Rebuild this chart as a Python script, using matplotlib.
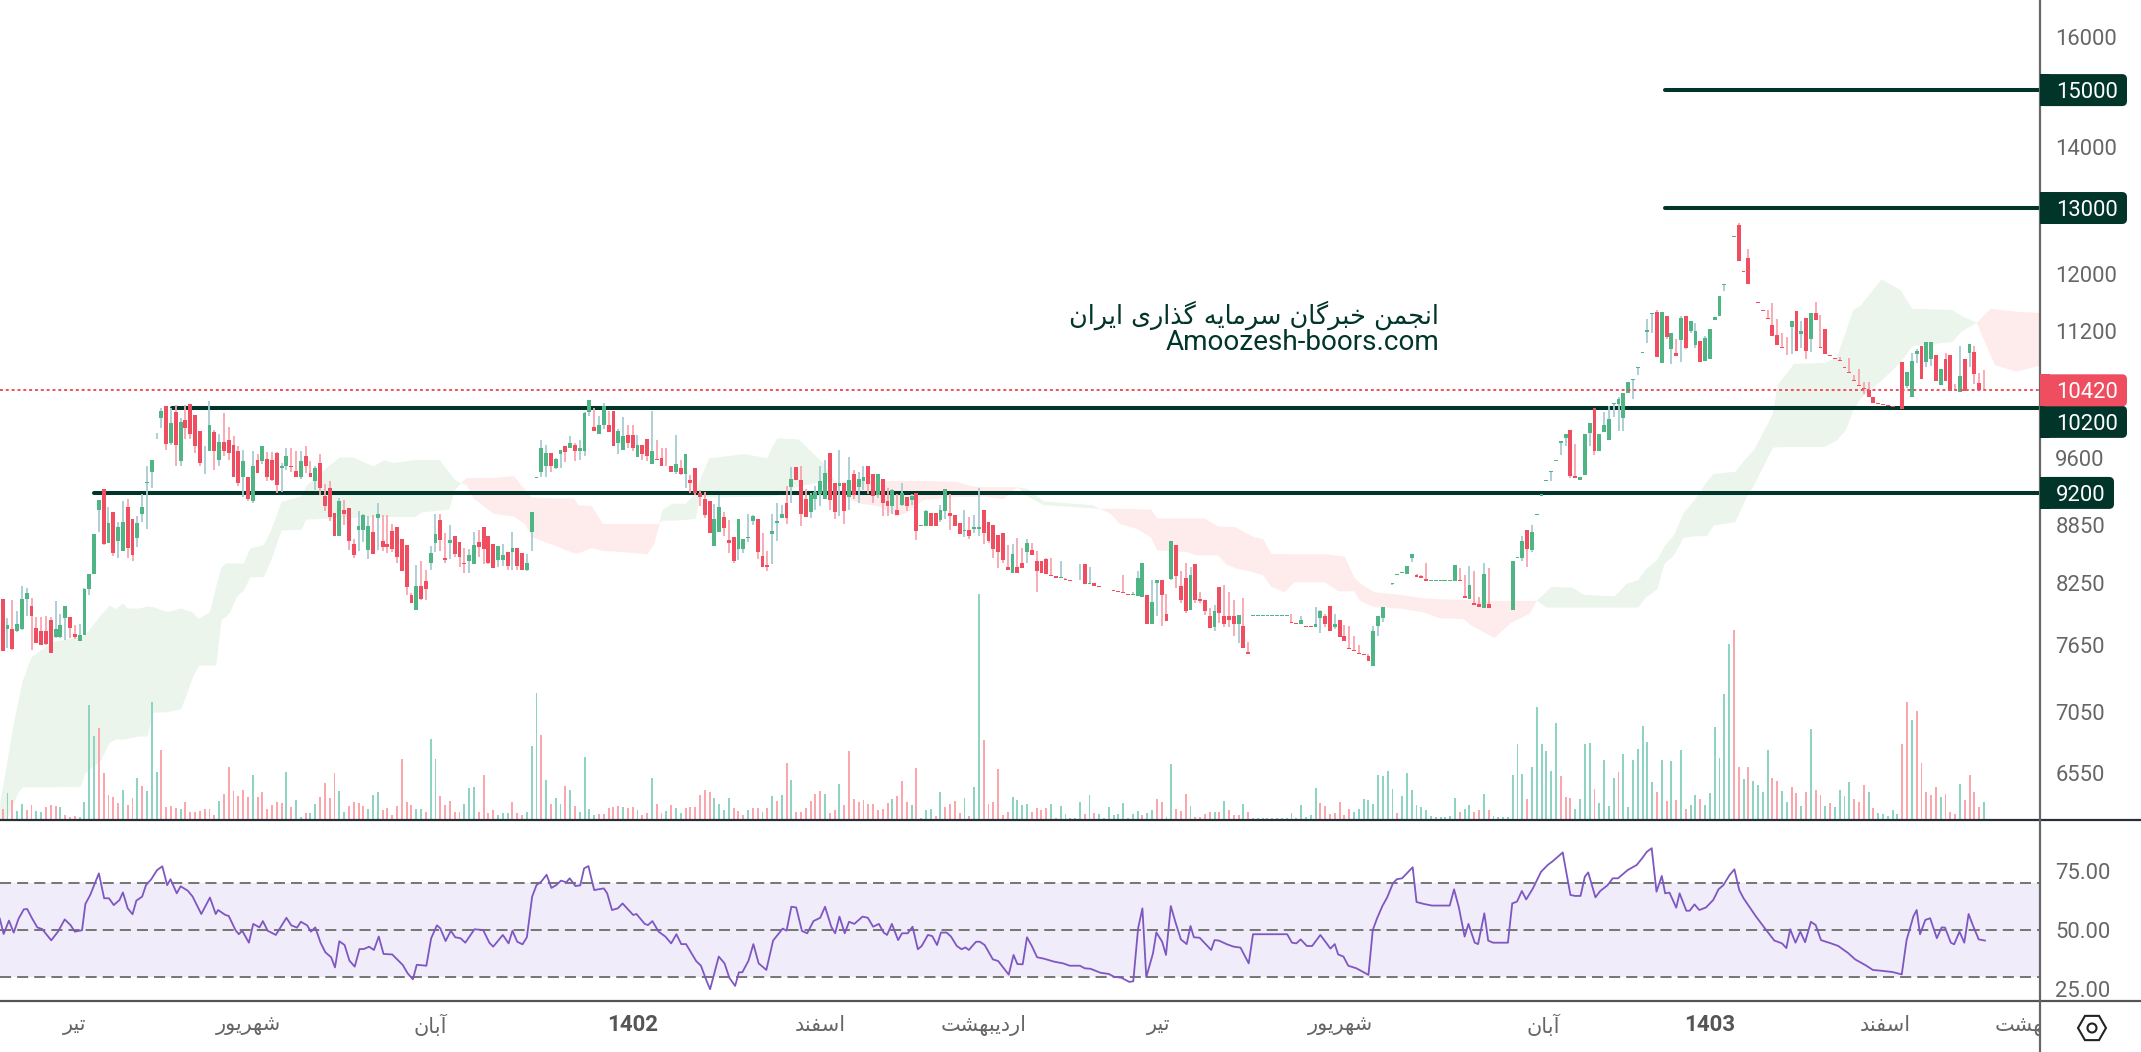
import math

import matplotlib

matplotlib.use("Agg")
import matplotlib.pyplot as plt
from matplotlib.lines import Line2D
from matplotlib.patches import Circle, FancyBboxPatch, Rectangle, RegularPolygon
from matplotlib.ticker import NullLocator
from matplotlib.transforms import Affine2D, Bbox, IdentityTransform, TransformedBbox, blended_transform_factory
import numpy as np

W, H = 2141, 1052

opens = [
    8090,7800,7795,7780,7795,8090,8020,7810,7785,7785,
    7890,7720,7720,7900,7910,7755,7690,7745,8190,8340,
    9010,9240,8660,8990,8680,8575,9045,8910,8710,8970,
    9310,9435,9890,10070,10225,9775,10150,9560,10055,10250,
    10115,9920,9710,9685,9900,9570,9790,9815,9755,9685,
    9375,9385,9115,9570,9560,9590,9570,9660,9480,9500,
    9510,9450,9385,9625,9420,9330,9545,9170,9255,8980,
    8730,9010,9030,8650,8795,8795,8585,8775,8925,8680,
    8650,8785,8825,8700,8635,8130,7985,8220,8265,8450,
    8660,8900,8505,8660,8730,8665,8450,8470,8440,8665,
    8825,8730,8650,8480,8480,8565,8565,8605,8555,8380,
    8775,9365,9435,9500,9660,9480,9645,9740,9710,9755,
    9685,9685,10150,9970,9885,9990,9990,10165,9780,9695,
    9875,9875,9615,9755,9825,9530,9590,9600,9510,9510,
    9435,9480,9410,9340,9480,9200,
    9135,9110,8625,8775,8930,8690,8720,8595,8595,8715,
    8895,8915,8520,8430,8755,8870,8925,9090,9265,9490,
    9350,9135,8985,9135,9190,9135,9660,9315,9275,9315,
    9155,9410,9265,9330,9510,9410,9180,9360,9105,9060,
    9010,9070,9155,9125,9200,8840,8835,8980,8980,8900,
    9000,8980,8955,8870,8785,8795,8805,8805,9010,8880,
    8850,8745,8765,8405,8350,8405,8455,8565,8585,8470,
    8470,8490,8325,8320,8300,8290,8280,8275,8275,8440,
    8240,8250,8220,8200,8195,8180,8170,8160,8140,8130,
    8120,8110,8130,7850,8250,8280,7945,8290,8635,8220,
    8300,7985,8440,8090,8080,7925,7815,8210,7925,7925,
    7925,7850,7830,7585,7925,7925,7925,7925,7925,7925,7925,7925,7865,7860,7850,7830,7830,
    7815,7900,7925,8020,7815,7890,7735,7625,7600,7580,
    7565,7550,7460,7825,7905,8115,8240,8330,
    8350,8340,8505,8330,8320,8285,8270,8270,8270,8270,
    8270,8270,8275,8120,8090,8050,8040,8000,8040,7980,
    7980,7980,7980,7980,8500,8505,8795,8585,8960,9170,
    9330,9435,9565,9770,9840,9935,9390,9345,9405,9895,
    10200,9675,9900,9805,10245,10250,10070,10390,10550,10705,
    10905,11190,11435,11460,10775,11400,10950,10900,11075,11400,
    11200,11010,11060,10800,10830,11345,11410,11840,12200,12555,
    12730,12040,12240,11745,11595,11490,11370,11275,11145,10980,
    10880,11250,11470,11155,11370,11090,11440,10980,11225,10875,
    10835,10815,10715,10650,10550,10485,10455,10430,10335,10260,
    10245,10230,10220,10210,10780,10470,10335,10890,10990,10790,
    10820,10870,10485,10830,10880,10430,10395,10830,10905,10920,
    10515,10425,
]
highs = [
    8090,7900,8075,7975,8220,8200,8100,7915,7910,7920,
    7910,8070,7945,8020,7910,7840,7850,8200,8340,8755,
    9125,9240,9045,8990,8880,9115,9135,8910,8945,9190,
    9500,9570,9895,10195,10225,10195,10240,10080,10240,10250,
    10115,9920,9740,10285,9935,9885,10140,9970,9860,9740,
    9695,9385,9685,9640,9740,9670,9670,9670,9535,9720,
    9720,9685,9685,9740,9560,9510,9640,9295,9330,8980,
    9145,9125,9030,8700,9000,8970,8945,8955,9090,8955,
    8955,8860,8825,8700,8635,8150,8430,8470,8380,8625,
    8970,8970,8765,8850,8730,8665,8605,8595,8775,8795,
    8825,8730,8650,8625,8650,8565,8775,8605,8555,8545,
    8990,9375,9815,9755,9660,9600,9695,9740,9860,9775,
    9815,10150,10300,10200,10100,10260,10165,10165,9945,10090,
    9995,9995,9875,9755,9825,10165,9815,9720,9720,9510,
    9875,9570,9640,9400,9480,9230,
    9210,9110,9080,9180,8990,8900,8720,8915,8700,8970,
    8955,8915,8765,8575,8970,9090,9070,9275,9490,9490,
    9510,9240,9200,9275,9510,9570,9660,9315,9695,9315,
    9615,9465,9435,9500,9510,9410,9410,9360,9255,9240,
    9190,9315,9155,9190,9200,8850,9010,8980,8980,9070,
    9240,9190,8955,8870,9010,8935,8955,9250,9010,8880,
    8850,8745,8765,8635,8650,8710,8605,8700,8660,8575,
    8470,8500,8500,8320,8470,8300,8280,8280,8440,8440,
    8405,8250,8220,8200,8200,8180,8170,8325,8140,8160,
    8370,8450,8130,8280,8280,8280,8140,8680,8635,8370,
    8450,8405,8440,8160,8080,8005,8030,8210,8230,8160,
    8080,7935,8100,7680,7930,7930,7930,7930,7930,7930,7930,7930,7945,7860,7925,7830,7830,
    8010,7985,7945,8020,7945,7890,7840,7830,7735,7650,
    7565,7565,7830,7925,8010,8120,8250,8340,
    8360,8415,8545,8335,8330,8455,8280,8280,8280,8280,
    8280,8430,8400,8330,8420,8370,8105,8455,8400,7985,
    7985,7985,7985,8475,8510,8730,8795,8850,8965,9190,
    9345,9445,9570,9795,9885,9935,9760,9385,9885,10020,
    10200,9880,10155,10225,10260,10340,10385,10530,10560,10715,
    10920,11360,11440,11480,11460,11400,11170,11085,11400,11400,
    11340,11310,11060,11135,11225,11385,11680,11850,12205,12565,
    12760,12040,12370,11745,11595,11490,11490,11590,11360,11170,
    11115,11340,11470,11335,11370,11440,11600,11420,11225,10875,
    10835,10845,10715,10840,10620,10690,10530,10530,10335,10260,
    10245,10230,10220,10210,10780,10660,10900,10955,10990,11050,
    11050,10870,10690,10905,10880,10495,10990,10830,11025,10995,
    10645,10685,
]
lows = [
    7590,7620,7605,7770,7790,7925,7600,7665,7645,7650,
    7575,7715,7715,7695,7715,7705,7690,7745,8130,8340,
    8775,8635,8655,8520,8500,8575,8500,8470,8615,8880,
    8805,9255,9825,9960,9695,9755,9510,9500,9825,9825,
    9660,9510,9410,9685,9465,9500,9625,9570,9375,9275,
    9155,9105,9090,9420,9525,9330,9330,9200,9210,9465,
    9435,9380,9360,9420,9375,9230,9180,9000,8890,8730,
    8730,8850,8585,8500,8575,8665,8490,8545,8585,8575,
    8555,8565,8455,8370,8130,8045,7985,8080,8080,8380,
    8565,8575,8450,8490,8510,8405,8350,8350,8440,8510,
    8440,8440,8400,8410,8415,8380,8380,8380,8380,8370,
    8575,9365,9375,9375,9435,9475,9480,9550,9710,9560,
    9570,9625,10100,9920,9885,9945,9900,9740,9650,9695,
    9720,9680,9615,9570,9560,9525,9570,9510,9500,9435,
    9410,9400,9250,9200,9180,9060,
    8925,8765,8625,8775,8730,8555,8450,8480,8555,8665,
    8850,8490,8405,8370,8440,8680,8925,8860,9090,9340,
    8835,8935,8925,9010,9060,9135,9010,8910,8945,8860,
    9010,9135,9090,9230,9190,9090,9145,8945,8945,8970,
    8955,9060,9000,9070,8690,8840,8835,8835,8835,8880,
    8910,8795,8835,8755,8720,8700,8765,8730,8650,8660,
    8500,8400,8455,8380,8350,8350,8400,8450,8530,8160,
    8350,8340,8320,8300,8300,8280,8270,8275,8275,8240,
    8240,8220,8210,8195,8195,8170,8160,8150,8130,8130,
    8120,8110,7850,7850,7920,7830,7880,8280,8200,8050,
    7955,7985,8050,8050,7930,7805,7780,7860,7820,7815,
    7735,7665,7625,7570,7925,7925,7925,7925,7925,7925,7925,7925,7860,7850,7850,7820,7820,
    7815,7765,7820,7785,7795,7725,7690,7615,7590,7570,
    7555,7500,7460,7735,7870,8115,8230,8330,
    8350,8340,8465,8310,8300,8270,8270,8270,8270,8270,
    8270,8270,8265,8100,8085,8030,8010,8000,8000,7980,
    7980,7980,7980,7980,8500,8475,8410,8560,8960,9170,
    9330,9330,9565,9630,9740,9370,9370,9345,9405,9740,
    9630,9675,9900,9805,10090,9915,9915,10390,10315,10620,
    10905,11035,11170,10850,10775,11095,10760,10860,10790,10950,
    11170,10965,10790,10800,10830,11345,11410,11760,12200,12555,
    12190,12035,11850,11740,11590,11475,11360,11135,11010,10970,
    10870,10895,10935,10975,10830,10910,11355,10965,10895,10865,
    10825,10800,10705,10640,10535,10475,10370,10340,10265,10250,
    10240,10225,10210,10205,10185,10445,10335,10775,10570,10715,
    10730,10535,10485,10535,10405,10420,10395,10415,10715,10495,
    10425,10420,
]
closes = [
    7590,7835,7615,7850,8090,8150,7925,7665,7645,7660,
    7575,7795,7840,8020,7810,7725,7745,8190,8340,8755,
    9125,8650,8870,8555,8825,8880,8605,8530,8870,9045,
    9320,9570,9895,10165,9765,10020,9755,10030,9960,9885,
    9740,9535,9720,9990,9685,9790,9685,9660,9375,9310,
    9560,9135,9500,9420,9740,9375,9340,9285,9510,9625,
    9490,9385,9560,9500,9375,9480,9255,9060,8935,8730,
    9115,8970,8680,8530,8835,8955,8835,8545,8970,8615,
    8615,8595,8510,8370,8210,8045,8220,8090,8190,8555,
    8755,8690,8480,8690,8545,8510,8440,8530,8635,8615,
    8595,8455,8400,8625,8530,8415,8605,8415,8380,8455,
    8990,9375,9720,9660,9500,9590,9695,9670,9770,9685,
    9720,10140,10300,9920,9990,10225,9910,9740,9920,9860,
    9775,9720,9755,9650,9625,9685,9570,9510,9500,9435,
    9525,9410,9640,9315,9200,9155,
    8955,8765,8915,9045,8815,8660,8470,8915,8700,8720,
    8945,8565,8405,8405,8785,8895,8970,8925,9360,9340,
    8970,8935,9180,9210,9330,9420,9125,8990,9310,9000,
    9340,9180,9360,9375,9295,9170,9410,9090,9060,9230,
    8955,9200,9060,9170,8785,8850,9000,8835,8835,9010,
    9240,8945,8835,8755,8795,8730,8825,8825,8765,8680,
    8595,8565,8480,8380,8545,8350,8400,8660,8530,8370,
    8350,8340,8320,8300,8310,8280,8270,8280,8280,8240,
    8250,8220,8210,8195,8200,8170,8160,8150,8130,8140,
    8300,8450,7850,8060,8280,8130,7880,8680,8320,8080,
    7970,8330,8080,8070,7970,7805,7970,7955,7850,7890,
    7850,7935,7625,7570,7930,7930,7930,7930,7930,7930,7930,7930,7860,7850,7890,7820,7820,
    7850,7970,7850,7785,7850,7725,7690,7615,7590,7570,
    7555,7500,7785,7925,8010,8120,8250,8340,
    8360,8415,8545,8310,8300,8270,8280,8280,8280,8280,
    8280,8430,8265,8100,8230,8030,8010,8340,8000,7985,
    7985,7985,7985,8475,8510,8680,8590,8770,8965,9190,
    9345,9445,9570,9795,9885,9390,9370,9385,9885,10020,
    9675,9880,9990,10060,10260,10310,10385,10530,10560,10715,
    10920,11205,11440,10850,11460,11110,11170,10860,11370,10965,
    11340,11195,10790,11100,11225,11385,11680,11850,12205,12565,
    12190,12035,11850,11740,11590,11475,11360,11135,11010,10970,
    10870,11340,10935,11195,10925,11440,11355,10965,10895,10865,
    10825,10800,10705,10640,10535,10475,10435,10340,10265,10250,
    10240,10225,10210,10205,10185,10660,10800,10925,10570,11050,
    11050,10535,10690,10535,10405,10420,10605,10415,11025,10630,
    10425,10420,
]

# negative volume = red bar
volumes = [
    -11,27,-20,9,16,-10,-15,9,8,-13,
    -15,-14,13,-5,-3,-4,3,18,115,84,
    -92,-47,-25,-23,-17,30,-15,-22,42,-34,
    29,118,48,-70,-13,-14,-12,11,-18,-8,
    -8,-9,-11,-11,-5,19,-26,-53,-29,-24,
    -30,-23,45,-23,-28,-11,-15,-18,-17,48,
    -13,20,3,-7,7,16,-23,-37,-22,-47,
    29,8,-14,-18,-17,-14,11,25,28,-10,
    -12,-5,-14,-61,-18,-15,11,11,-8,81,
    61,-24,-15,-19,-8,-8,16,32,33,-8,
    -45,-7,-10,5,7,7,-18,-7,-5,8,
    74,127,-85,40,-16,22,16,-34,30,-14,
    8,63,11,5,-6,-6,-12,-13,-14,13,
    -12,-13,10,-5,-7,42,-16,-7,9,-15,
    12,7,-12,-13,-13,
    -25,-30,-28,22,16,10,22,-12,-9,-5,
    10,-12,-12,8,-12,24,-19,25,-57,40,
    -8,-8,-12,-19,-26,-29,26,-7,-10,36,
    -15,-69,-21,-18,-20,-16,-16,-10,-11,-17,
    21,-24,-39,-18,15,-52,2,10,11,-4,
    28,-13,-16,-19,-7,22,-4,33,226,-80,
    -16,-18,-51,-5,-8,23,20,15,16,-8,
    -12,-10,-12,16,-2,14,6,2,2,18,
    -6,25,-7,6,2,13,5,6,17,2,
    6,9,-5,7,10,-21,-18,3,56,-11,
    -9,-26,14,-3,-3,-6,-8,8,-8,19,
    -10,-5,-5,16,-8,2,2,2,2,2,
    2,2,2,7,2,15,3,5,32,-17,
    -14,-6,-7,-18,-5,-11,8,11,21,20,
    16,45,44,49,31,-7,
    24,47,30,15,13,10,4,3,3,3,
    4,22,-8,11,15,-8,-10,26,-10,4,
    3,3,3,45,76,46,-21,53,113,76,
    69,49,97,-44,-23,-22,11,21,76,77,
    -31,17,60,14,42,-48,66,13,60,71,
    94,78,38,-28,60,-19,59,-20,70,-11,
    15,25,-21,15,27,93,62,126,176,-190,
    -53,41,-53,39,35,28,70,-42,-39,29,
    18,-33,-27,14,-28,91,-30,-25,14,-17,
    13,30,24,38,-21,-18,-35,28,-12,7,
    6,4,10,6,-76,-118,100,-109,-57,-28,
    -25,-33,23,-26,-8,-6,36,-20,-45,-28,
    -13,18,
]

rsi_x = [
    -0.6,0.2,1.3,2.3,3.3,4.4,5.1,6.1,7.2,8.2,10.1,11.5,12.9,14.1,15,16.5,17.2,18.2,20,21.1,
    22.1,23.1,24.3,25,26,27,27.8,29,29.8,30.9,32.1,33.2,34.2,34.9,36.2,37,38.5,39.5,41.3,43.1,
    44.3,44.8,46.3,47,48.4,49.1,49.8,51.2,52.1,53.4,54.1,55.1,56.8,59,60,61.2,62,63.3,64.1,65,
    66.1,67.1,68.3,69.1,70,71.1,72.1,73.2,74.2,75.1,76.2,77.2,78.2,79.2,81,83.2,84.2,85.3,86.1,88.1,
    89.1,90.3,91,92.1,93.2,94.1,95.2,96.2,98.1,99.9,101.2,102,104,105.2,106,107,108.1,109,110.1,111,
    112,113.1,114.1,115.1,116.1,117.2,117.9,119.1,120.1,120.9,121.8,123,125,125.7,126.7,127.9,128.9,131.1,131.8,133.5,
    134.2,135.1,136.4,137.8,139,140.1,141.1,142.1,144.2,145.2,146.3,147.1,148.9,150.1,151.1,152.3,153.1,153.8,155.1,156.1,
    157.2,158.8,160.2,162.2,163,164,165,166.2,167.3,168.6,170,171,172.3,173.1,174,175.1,176,177.1,178.8,179.9,
    181,182.2,183.2,183.9,184.9,186.2,187,188.2,189.2,190.3,191.1,192.4,193.3,194.3,195.1,196.3,197.2,198.4,199.4,200.2,
    200.9,202.4,203.2,204.2,205.9,207,209.2,210.2,211,212.1,213,214,215.1,216.5,218.7,220.5,
    221.9,224,225,226.2,228.3,230,231.1,232.6,234.3,235.1,236.1,237,237.8,239.2,239.9,241.1,241.9,242.9,243.9,245,
    246.2,247,247.7,248.9,251.3,252,252.9,254.6,256,257.4,259.1,260,267.1,268.1,269,269.9,271.2,272.3,274,276.1,
    277,277.7,278.8,279.8,281.5,284,284.9,285.8,286.9,287.9,289.1,289.9,291,293.2,294,295.5,297.2,300.9,301.8,302.8,
    304,304.8,306.1,306.8,308.1,308.9,309.9,313,313.9,314.9,315.9,316.8,318.2,319.9,321.3,322.4,323.4,324.4,326,327,
    328.1,329,329.7,331.2,332.2,333.7,334.8,335.9,337.9,339.8,340.9,341.9,342.9,343.9,345,345.7,346.6,348,348.7,350.1,
    350.8,351.8,352.8,354.2,355.7,356.8,357.8,359.1,360.1,361.1,362,364.6,366.7,368.4,370,370.9,371.7,372.8,373.8,374.8,
    376,377,378.1,380.2,381.7,383.8,385.2,387.3,388.9,390.9,393,394.9,395.9,397.3,398,398.7,399.8,400.8,402.2,403.2,
    403.9,405.1,405.8,406.9,407.9,408.8,409.8,410.9,412.2,
]
rsi_vals = [
    54.8,48.3,54,48.9,54.8,58.8,58.9,55,51.1,50.4,45.6,49.3,54.5,52.1,49.3,49.9,61.1,64.9,74.1,63.5,
    63.5,60.6,62.8,66,59.2,56.7,62.5,64.2,69.1,71.6,75.5,77.1,69.1,71.6,65.6,68.6,66.7,64.2,56.8,63.8,
    56.8,58.5,56.4,56,50,48.2,49.7,44.6,52.6,51.1,53.8,49.7,47.9,55.2,52,51,53.5,52,49.3,51.1,
    44.6,40.5,38.4,34.1,45.2,43.6,37,34.4,41.9,41.9,42.9,41.5,47.2,39.8,39.6,35.1,31.6,29,35.2,34.8,
    46.5,52,50.7,45.3,49.7,46.9,46.5,44.6,50.3,50,44.6,42.9,47.9,44.3,49.7,45,43.9,46.9,64.2,69.1,
    70.6,73.5,67.9,69.1,71,70.3,72,68.7,69,76.2,77.2,67,67.7,65.6,58.5,59.2,61.3,56.4,56.8,52.6,
    52.1,53.8,49.3,47.2,44.3,48.2,44,44,36.8,34.8,28.7,24.8,38.7,35.8,29.7,26.2,32,32,37,44,
    35.8,33,45.5,50.6,49.7,59.9,59.6,49.6,48.6,53.8,55.2,59.9,51.4,48.6,55.7,48.6,53.5,52.6,55.7,55.2,
    51.4,52.6,48.9,47.9,52.6,45.7,48.6,48.6,51.4,41.8,43.2,47.9,47.4,43.6,48.9,48.9,47.2,43.2,41.8,42.6,
    41.5,45,45,43.6,37.5,36.8,31,39.4,35.5,35.4,46.9,43.2,38.4,37.8,36.5,35.8,
    34.8,34.8,33.7,33.5,31.8,31.3,30.1,29.7,27.9,28.2,50.7,59.2,29.9,40.1,49,45,39.4,60.2,53.1,46,
    44,51.7,46.9,46.7,41.5,45.7,45.5,43.9,42.9,42.5,35.8,48.2,48.2,44.6,44.3,46,43.2,43.2,47.9,42.1,
    44,39.6,38.7,34.8,33.7,30.9,50,55,60.2,63.9,69.9,71.6,72,76.7,61.9,61.1,60.4,60.4,67.3,59.6,
    47.2,52.6,44.6,44,57.1,45.5,44.6,44.6,61.3,62.1,66.6,63,67.7,74.8,77.7,79.4,81.2,83,64.9,64.5,
    64.5,72.7,74.5,63.9,66.6,69,72,72,75.5,77.7,80.5,83.3,84.8,66.3,73,65.6,65.9,59.5,65.6,58.2,
    58.2,60.9,58.5,59.6,62.8,67.3,69.1,73.4,75.8,67,63.5,55.7,50,45.5,44.3,42.3,50.3,44.6,49.3,44.8,
    53.5,52.1,45.7,44.3,43.2,40.1,37.5,35.1,33,32.6,32.1,31.1,45.7,55.7,58.5,48.2,54.3,55,46.5,51.1,
    51,44.6,43.9,49.3,44.6,56.8,51.4,46,45.5,
]

# ichimoku cloud pieces: bar position, upper edge, lower edge
green_x = [
    [-0.6,0.8,2.2,3.2,4.1,5.9,10.1,16.1,17.1,20.3,22.2,23.4,25,25.9,28.2,30,31.2,34.2,37,38,39.3,40.7,43,44.3,45.4,46.3,47.2,48.6,50,51.4,54.2,55.6,57.9,62.1,63,64.4,67.6,70,72.8,77,79.3,81.1,85.7,87.1,90.8,92.7,94,95.2],
    [136.5,137,139.1,141.9,144,144.9,146.8,154.2,158.9,159.8,161,165.4,170.5,172.8,174.4],
    [210.9,213.1,216.4,226.6,228],
    [318.9,320.9,321.9,326.3,328.7,335.1,337.6,340,341.5,344,345.4,347.4,349.4,351.8,354.3,355.7,360.2,362.6,364.1,368,369,372.4,378.8,381.3,383.2,384.7,386.2,390.6,394.5,397,405.3,407.3,410.4],
]
green_hi = [
    [6320,6628,6956,7155,7330,7540,7680,7730,7745,7935,8030,7995,8050,8000,8000,8020,8015,7965,8000,7985,7965,7900,7965,8215,8405,8450,8450,8450,8450,8605,8640,8780,9105,9170,9280,9350,9505,9610,9610,9505,9580,9545,9580,9580,9580,9440,9350,9315],
    [8865,9010,9085,9085,9200,9350,9600,9650,9600,9715,9835,9825,9545,9350,9330],
    [9270,9250,9110,9070,9030],
    [8075,8165,8215,8205,8135,8120,8245,8280,8385,8490,8625,8740,8980,9130,9335,9420,9445,9610,9700,10130,10495,10765,10780,10855,11200,11495,11550,11930,11775,11510,11495,11410,11315],
]
green_lo = [
    [6190,6190,6315,6400,6440,6440,6440,6445,6550,6650,6800,6825,6825,6830,6850,6850,7050,7055,7080,7185,7345,7465,7465,7465,7890,7920,7965,8115,8175,8310,8310,8465,8795,8805,8915,8915,8925,8925,8930,8940,8940,8940,8940,8990,9010,9020,9240,9315],
    [8865,8900,8900,8910,8920,9155,9155,9160,9165,9165,9175,9280,9330,9330,9330],
    [9270,9165,9070,9035,9030],
    [8075,8010,8010,8010,8010,8010,8010,8010,8105,8190,8440,8535,8715,8735,8735,8850,8885,9165,9290,9725,9730,9735,9735,9810,9935,10175,10320,10550,10780,11000,11055,11200,11315],
]
red_x = [
    [95.2,96.4,97.8,102,106.2,108.5,109.9,114.5,118.7,119.6,122.4,124.7,128.4,134,135.4,136.5],
    [174.4,176.5,178.4,182,185.8,188.1,191.3,198.3,201.5,204.3,208,210.9],
    [228,230.3,232.2,235.9,238.7,240,246.1,248,249.8,252.6,254.4,256.3,260,262,263.7,266.5,268.4,274.9,277.6,279,280.9,282.3,285.1,290.4,295.3,298.8,303.7,305.2,310.1,313.5,317.4,318.9],
    [410.4,413.2,414.2,418.6,424],
]
red_hi = [
    [9315,9375,9375,9375,9395,9240,9155,9145,9145,9070,9060,8865,8865,8865,8865,8865],
    [9330,9335,9335,9340,9340,9340,9340,9330,9280,9270,9270,9270],
    [9030,9030,9030,9025,9020,8925,8925,8925,8925,8840,8835,8830,8725,8705,8550,8545,8545,8545,8530,8520,8310,8245,8160,8135,8100,8090,8085,8080,8075,8075,8075,8075],
    [11315,11510,11505,11470,11450],
]
red_lo = [
    [9315,9290,9145,8975,8945,8865,8725,8640,8555,8555,8610,8580,8570,8545,8655,8865],
    [9330,9125,9085,9060,8945,8995,9125,9160,9160,9165,9135,9270],
    [9030,8975,8865,8810,8720,8585,8570,8535,8535,8535,8440,8400,8360,8330,8215,8160,8260,8260,8170,8170,8170,8070,8015,8000,7965,7905,7900,7840,7720,7860,7950,8075],
    [11315,10890,10750,10665,10750],
]

price_ticks = [16000, 14000, 12000, 11200, 9600, 8850, 8250, 7650, 7050, 6550]
rsi_ticks = [25, 50, 75]
rsi_bands = [30, 50, 70]
# name, bar position where the level line starts
level_prices = [15000, 13000, 10200, 9200]
level_starts = [345.7, 345.7, 35.2, 19]
last_price = 10420

month_x = [15, 51.1, 89, 131, 170, 204, 240.4, 278.2, 320.4, 355, 391.5, 423.1]
month_names = ["تیر", "شهریور", "آبان", "1402", "اسفند", "اردیبهشت", "تیر", "شهریور", "آبان", "1403", "اسفند", "اردیبهشت"]

watermark_fa = "انجمن خبرگان سرمایه گذاری ایران"
watermark_en = "Amoozesh-boors.com"

# matplotlib has no arabic shaping, so map letters to presentation forms
FORMS = {
    "ا": "\ufe8d\ufe8e", "آ": "\ufe81\ufe82", "د": "\ufea9\ufeaa", "ذ": "\ufeab\ufeac",
    "ر": "\ufead\ufeae", "و": "\ufeed\ufeee",
    "ب": "\ufe8f\ufe90\ufe91\ufe92", "ت": "\ufe95\ufe96\ufe97\ufe98", "ج": "\ufe9d\ufe9e\ufe9f\ufea0",
    "خ": "\ufea5\ufea6\ufea7\ufea8", "س": "\ufeb1\ufeb2\ufeb3\ufeb4", "ش": "\ufeb5\ufeb6\ufeb7\ufeb8",
    "ف": "\ufed1\ufed2\ufed3\ufed4", "گ": "\ufb92\ufb93\ufb94\ufb95", "م": "\ufee1\ufee2\ufee3\ufee4",
    "ن": "\ufee5\ufee6\ufee7\ufee8", "ه": "\ufee9\ufeea\ufeeb\ufeec", "ی": "\ufbfc\ufbfd\ufbfe\ufbff",
}


def shape(text):
    out = []
    for i, ch in enumerate(text):
        if ch not in FORMS:
            out.append(ch)
            continue
        prev_ch = text[i - 1] if i else ""
        next_ch = text[i + 1] if i + 1 < len(text) else ""
        join_prev = prev_ch in FORMS and len(FORMS[prev_ch]) == 4
        join_next = next_ch in FORMS and len(FORMS[ch]) == 4
        idx = 3 if join_prev and join_next else 1 if join_prev else 2 if join_next else 0
        out.append(FORMS[ch][idx])
    return "".join(reversed(out))


fig = plt.figure(figsize=(W / 100, H / 100), dpi=100, facecolor="#FFFFFF")
px = Affine2D().scale(1 / W, -1 / H).translate(0, 1) + fig.transFigure


def frame(x0, y0, x1, y1):
    return [x0 / W, 1 - y1 / H, (x1 - x0) / W, (y1 - y0) / H]


ax = fig.add_axes(frame(0, 0, 2040, 820))
ax_vol = fig.add_axes(frame(0, 0, 2040, 820), sharex=ax)
ax_rsi = fig.add_axes(frame(0, 820, 2040, 1001), sharex=ax)
ax_vol.patch.set_visible(False)
ax_vol.set_zorder(2)
ax.set_zorder(1)
for a in (ax, ax_vol, ax_rsi):
    for spine in a.spines.values():
        spine.set_visible(False)

n = len(closes)
step = (1984 - 2.68) / (n - 1)
x = np.arange(n)
o = np.array(opens, dtype=float)
c = np.array(closes, dtype=float)
up = c >= o

ax.set_yscale("log")
ax.set_ylim(6186, 16733)
ax.set_xlim(-2.68 / step, (2040 - 2.68) / step)

for xs, hi, lo in zip(green_x, green_hi, green_lo):
    ax.fill_between(xs, lo, hi, color="#EBF5EC", lw=0, zorder=1)
for xs, hi, lo in zip(red_x, red_hi, red_lo):
    ax.fill_between(xs, lo, hi, color="#FEEBEB", lw=0, zorder=1)

for price, start in zip(level_prices, level_starts):
    ax.hlines(price, start, 500, color="#02352A", lw=2.9, zorder=2, capstyle="round")

ax.vlines(x, lows, highs, colors=np.where(up, "#A7CCD3", "#F9A5AF"), lw=1.3, zorder=3)
ax.bar(x, np.abs(c - o), bottom=np.minimum(o, c), width=0.8, color=np.where(up, "#50B585", "#EF4E60"), lw=0, zorder=4)
ax.axhline(last_price, color="#F0505F", lw=1.4, ls=(0, (1.5, 1.5)), zorder=5)

ax.yaxis.tick_right()
ax.set_yticks(price_ticks)
ax.set_yticklabels([str(t) for t in price_ticks], fontname="Roboto", fontsize=15.8, color="#666666")
ax.yaxis.set_minor_locator(NullLocator())
ax.yaxis.set_minor_formatter(plt.NullFormatter())
ax.tick_params(axis="y", length=0, pad=11)
ax.tick_params(axis="x", bottom=False, labelbottom=False)

vol = np.array(volumes, dtype=float)
ax_vol.bar(np.arange(len(vol)), np.abs(vol), width=0.4, color=np.where(vol > 0, "#8FD3C3", "#FBA5AD"), lw=0)
ax_vol.set_ylim(0, 820)
ax_vol.set_yticks([])
ax_vol.tick_params(axis="x", bottom=False, labelbottom=False)

ax_rsi.set_ylim(50 - 71 / 2.35, 50 + 110 / 2.35)
ax_rsi.axhspan(rsi_bands[0], rsi_bands[2], color="#F0ECF9", lw=0)
for level in rsi_bands:
    ax_rsi.axhline(level, color="#787878", lw=1.45, ls=(0, (5.5, 3)))
ax_rsi.plot(rsi_x, rsi_vals, color="#7E57C2", lw=1.3)
ax_rsi.yaxis.tick_right()
ax_rsi.set_yticks(rsi_ticks)
ax_rsi.set_yticklabels([f"{t:.2f}" for t in rsi_ticks], fontname="Roboto", fontsize=15.8, color="#666666")
ax_rsi.tick_params(axis="y", length=0, pad=11)
ax_rsi.tick_params(axis="x", bottom=False, labelbottom=False)

# month labels under the rsi panel, the last one is cut by the price axis
trans = blended_transform_factory(ax_rsi.transData, ax_rsi.transAxes)
clip = TransformedBbox(Bbox([[0, 0], [2040, H]]), IdentityTransform())
for pos, name in zip(month_x, month_names):
    if name.isdigit():
        t = ax_rsi.text(pos, -0.135, name, transform=trans, ha="center", va="center", fontname="Roboto", fontweight="bold", fontsize=16, color="#555555", clip_on=True)
    else:
        t = ax_rsi.text(pos, -0.135, shape(name), transform=trans, ha="center", va="center", fontname="DejaVu Sans", fontsize=15, color="#666666", clip_on=True)
    t.set_clip_box(clip)

fig.add_artist(Line2D([0, W], [820, 820], transform=px, color="#2A2E39", lw=1.6, zorder=6))
fig.add_artist(Line2D([0, W], [1001, 1001], transform=px, color="#555555", lw=1.6, zorder=6))
fig.add_artist(Line2D([2040, 2040], [0, H], transform=px, color="#666666", lw=1.6, zorder=6))


def badge(price, label, fill, shift=0):
    yc = H - ax.transData.transform((0, price))[1] + shift
    width = 87 if len(label) == 5 else 74
    fig.add_artist(FancyBboxPatch((2044, yc - 12), width - 8, 24, boxstyle="round,pad=4,rounding_size=5", transform=px, fc=fill, ec="none", zorder=7))
    fig.add_artist(Rectangle((2040, yc - 16), 10, 32, transform=px, fc=fill, ec="none", zorder=7))
    fig.text(2056, yc, label, transform=px, ha="left", va="center_baseline", fontname="Roboto", fontsize=15.8, color="#FFFFFF", zorder=8)


badge(15000, "15000", "#02352A")
badge(13000, "13000", "#02352A")
badge(10200, "10200", "#02352A", shift=14)
badge(9200, "9200", "#02352A")
badge(last_price, "10420", "#EF4E60")

fig.text(1439, 315, shape(watermark_fa), transform=px, ha="right", va="center", fontname="DejaVu Sans", fontsize=18.4, color="#02352A", zorder=8)
fig.text(1439, 342, watermark_en, transform=px, ha="right", va="center", fontname="Roboto", fontsize=20.1, color="#02352A", zorder=8)

fig.add_artist(RegularPolygon((2092, 1028), 6, radius=14, orientation=math.pi / 2, transform=px, fc="none", ec="#222222", lw=1.5, zorder=7))
fig.add_artist(Circle((2092, 1028), 4.5, transform=px, fc="none", ec="#222222", lw=1.5, zorder=7))

fig.savefig("out.png", dpi=100)
